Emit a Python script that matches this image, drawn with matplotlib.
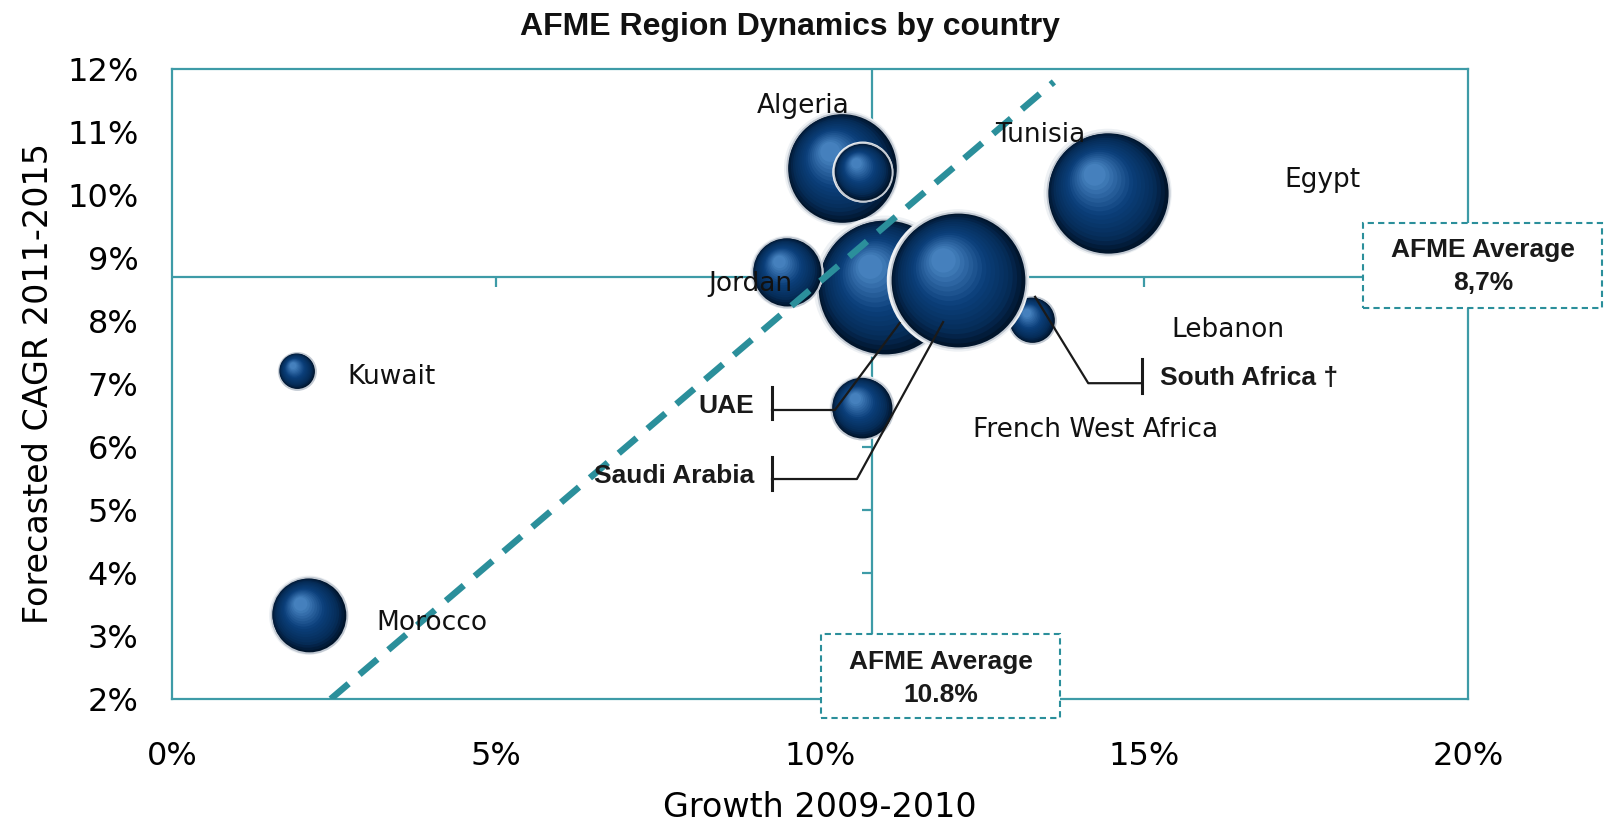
import numpy as np
import matplotlib
matplotlib.use("Agg")
import matplotlib.pyplot as plt
from matplotlib.patches import Rectangle
from matplotlib.transforms import ScaledTranslation
from matplotlib.colors import LinearSegmentedColormap
from matplotlib.ticker import FuncFormatter
import matplotlib.lines as mlines

# data (drawn back to front)
countries = ["Egypt", "Algeria", "Tunisia", "UAE", "Jordan", "South Africa",
             "Saudi Arabia", "French West Africa", "Kuwait", "Morocco"]
growth = [14.44, 10.34, 10.66, 11.00, 9.49, 13.27, 12.13, 10.65, 1.93, 2.11]   # Growth 2009-2010, %
cagr = [10.03, 10.42, 10.36, 8.54, 8.77, 8.01, 8.64, 6.62, 7.20, 3.33]        # Forecasted CAGR 2011-2015, %
market = [39.7, 32.5, 9.0, 49.0, 13.0, 5.8, 49.0, 10.2, 3.6, 15.2]             # bubble size (relative)
avg_growth = 10.8
avg_cagr = 8.7
trend_x = [2.45, 13.61]
trend_y = [2.0, 11.79]

TEAL = "#3e9ba7"
DASH_TEAL = "#2b8f9b"
SANS = "DejaVu Sans"
BOLD = "Liberation Sans"

fig = plt.figure(figsize=(16.04, 8.25), dpi=100)
ax = fig.add_axes([0.1072, 0.1527, 0.808, 0.7641])
ax.set_xlim(0, 20)
ax.set_ylim(2, 12)
for sp in ax.spines.values():
    sp.set_color(TEAL)
    sp.set_linewidth(1.6)

ax.set_xticks([0, 5, 10, 15, 20])
ax.set_yticks(range(2, 13))
ax.xaxis.set_major_formatter(FuncFormatter(lambda v, p: f"{v:.0f}%"))
ax.yaxis.set_major_formatter(FuncFormatter(lambda v, p: f"{v:.0f}%"))
ax.tick_params(axis="both", length=0, labelsize=23)
ax.tick_params(axis="x", pad=30)
ax.tick_params(axis="y", pad=24)
for lab in ax.get_xticklabels() + ax.get_yticklabels():
    lab.set_fontfamily(SANS)
ax.set_xlabel("Growth 2009-2010", fontsize=24, family=SANS, labelpad=14)
ax.set_ylabel("Forecasted CAGR 2011-2015", fontsize=24, family=SANS, labelpad=9)

# average cross lines with their small ticks
ax.axhline(avg_cagr, color=TEAL, lw=1.6, zorder=1)
ax.axvline(avg_growth, color=TEAL, lw=1.6, zorder=1)
ax.plot([5, 15], [avg_cagr] * 2, ls="none", marker=mlines.TICKDOWN, ms=7, mew=1.6, color=TEAL, zorder=1)
ax.plot([avg_growth] * 9, range(3, 12), ls="none", marker=mlines.TICKLEFT, ms=7, mew=1.6, color=TEAL, zorder=1)

# shaded spheres
cmap = LinearSegmentedColormap.from_list(
    "sphere", [(0, "#01152c"), (0.2, "#052c58"), (0.55, "#0b3f7a"), (1, "#4580bd")])
N = 16
for i, (x, y, v) in enumerate(zip(growth, cagr, market)):
    z = 3 + i * 0.1
    s = 195 * v
    r = np.sqrt(s) / 2
    ax.scatter(x, y, s=s * 1.1, color="#eef1f4", edgecolors="none", zorder=z)
    ax.scatter(x, y, s=s, color=cmap(0), edgecolors="#c3cad3", linewidths=1.4, zorder=z + 0.001)
    for k in range(1, N + 1):
        f = 1 - k * 0.82 / N
        t = (1 - f) / 0.82
        off = ScaledTranslation(-0.26 * r * (1 - f) / 72, 0.36 * r * (1 - f) / 72, fig.dpi_scale_trans)
        ax.scatter(x, y, s=s * f * f, color=cmap(t), edgecolors="none",
                   transform=ax.transData + off, zorder=z + 0.002 + k * 0.001)

# trend line
ax.plot(trend_x, trend_y, color=DASH_TEAL, lw=4.7, dashes=(3.6, 2.2), zorder=8, solid_capstyle="butt")

# country labels
plain_labels = [("Algeria", 9.03, 11.30), ("Tunisia", 12.70, 10.83), ("Egypt", 17.17, 10.12),
                ("Jordan", 8.27, 8.47), ("Lebanon", 15.42, 7.74), ("French West Africa", 12.36, 6.16),
                ("Kuwait", 2.70, 7.00), ("Morocco", 3.15, 3.09)]
for name, lx, ly in plain_labels:
    ax.text(lx, ly, name, fontsize=19, family=SANS, ha="left", va="baseline", zorder=9, color="#111111")

bold_labels = [("UAE", 8.98, 6.54, "right"), ("Saudi Arabia", 8.98, 5.43, "right"),
               ("South Africa \u2020", 15.25, 6.98, "left")]
for name, lx, ly, ha in bold_labels:
    ax.text(lx, ly, name, fontsize=19, family=BOLD, weight="bold", ha=ha, va="baseline",
            zorder=9, color="#1a1a1a")

# leader lines with end brackets
leaders = [([9.26, 10.23, 11.23], [6.585, 6.585, 7.965], 9.26, (6.95, 6.44)),
           ([9.26, 10.57, 11.90], [5.49, 5.49, 7.98], 9.26, (5.84, 5.32)),
           ([14.97, 14.14, 13.32], [7.01, 7.01, 8.38], 14.97, (7.40, 6.85))]
for lxs, lys, bx, (b0, b1) in leaders:
    ax.plot(lxs, lys, color="#1a1a1a", lw=1.6, zorder=10)
    ax.plot([bx, bx], [b0, b1], color="#1a1a1a", lw=2.2, zorder=10)

# average boxes
def avg_box(x0, y0, w, h, line1, line2, cx, y1, y2):
    fig.add_artist(Rectangle((x0, y0), w, h, transform=fig.transFigure, facecolor="white",
                             edgecolor=DASH_TEAL, lw=1.5, ls=(0, (3, 2)), zorder=5))
    fig.text(cx, y1, line1, fontsize=19, family=BOLD, weight="bold", ha="center", va="center",
             zorder=6, color="#1a1a1a")
    fig.text(cx, y2, line2, fontsize=19, family=BOLD, weight="bold", ha="center", va="center",
             zorder=6, color="#1a1a1a")

avg_box(0.8498, 0.6267, 0.1490, 0.1030, "AFME Average", "8,7%", 0.9245, 0.697, 0.657)
avg_box(0.5119, 0.1297, 0.1489, 0.1018, "AFME Average", f"{avg_growth}%", 0.5866, 0.1976, 0.1576)

fig.text(0.4925, 0.967, "AFME Region Dynamics by country", fontsize=23, family=BOLD,
         weight="bold", ha="center", va="center", color="#111111")

fig.savefig("out.png", dpi=100, facecolor="white")
